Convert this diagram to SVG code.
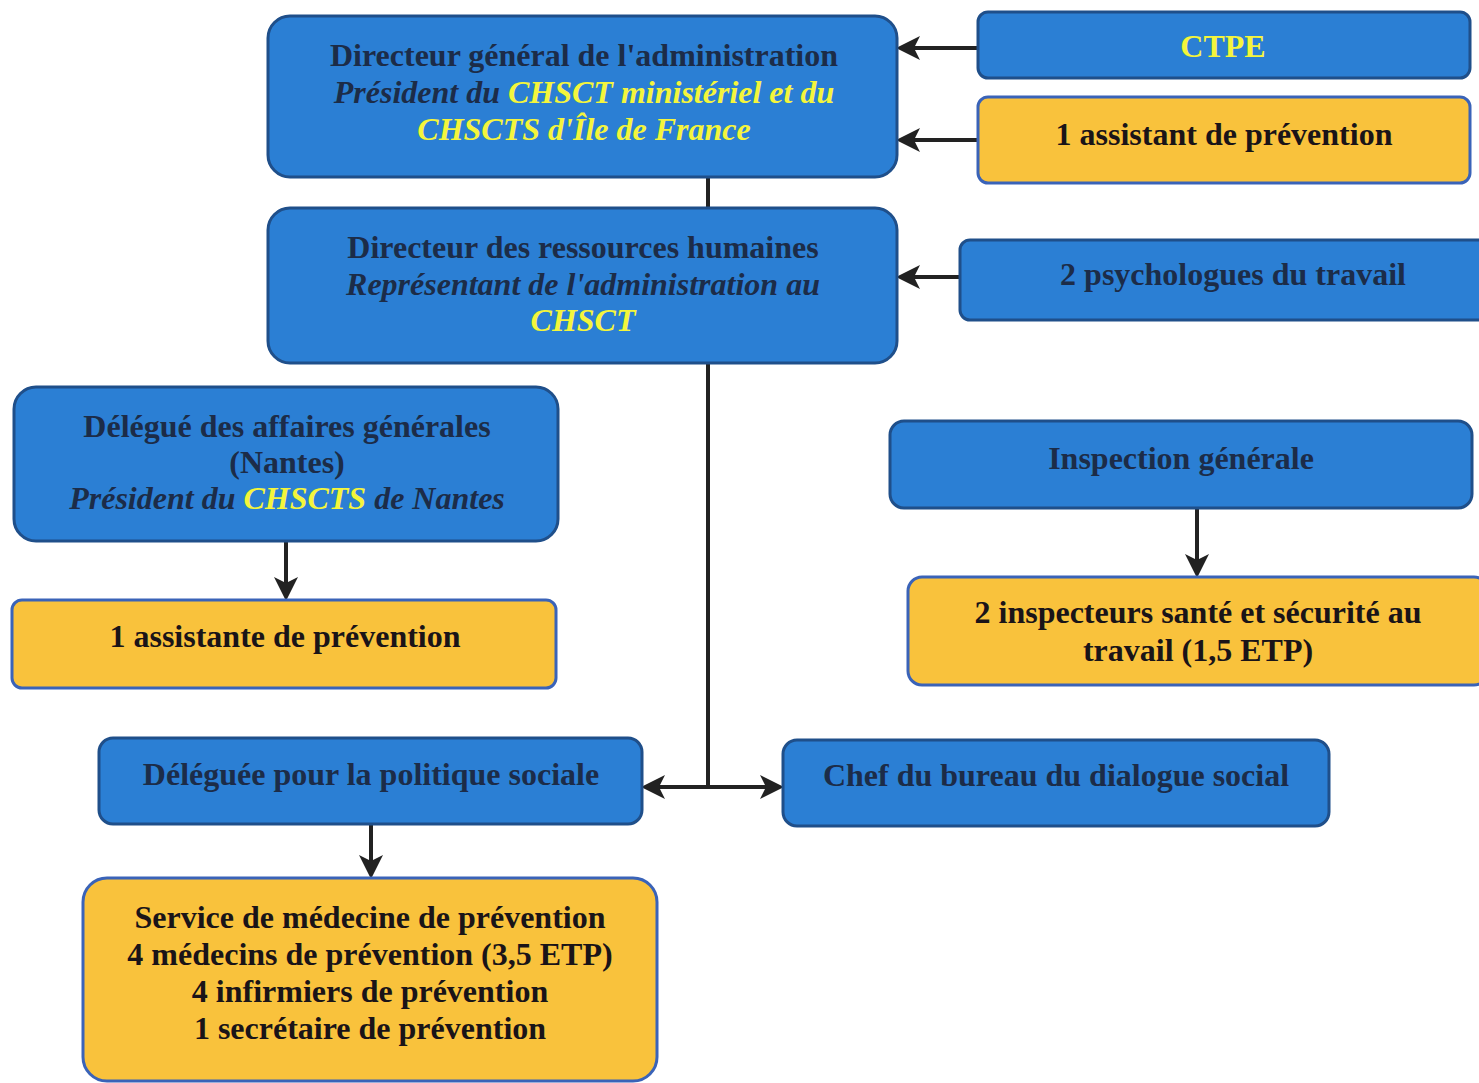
<svg xmlns="http://www.w3.org/2000/svg" width="1479" height="1083" viewBox="0 0 1479 1083">
<style>
.blue{fill:#2b7fd4;stroke:#1f4f8a;stroke-width:3}
.orange{fill:#f9c23c;stroke:#3a63b8;stroke-width:3}
text{font-family:"Liberation Serif","Times New Roman",serif;font-weight:bold;font-size:32px;text-anchor:middle}
.dk{fill:#1c2c48}
.yl{fill:#f4f53c}
.bk{fill:#1a1418}
.it{font-style:italic}
.ln{stroke:#222;stroke-width:4;fill:none}
</style>
<defs>
<marker id="ah" markerWidth="6" markerHeight="6" refX="5" refY="3" orient="auto-start-reverse" markerUnits="strokeWidth">
<path d="M0,0 L6,3 L0,6 L1.5,3 Z" fill="#222"/>
</marker>
</defs>
<rect width="1479" height="1083" fill="#ffffff"/>
<g id="connectors">
<line class="ln" x1="978" y1="48" x2="900" y2="48" marker-end="url(#ah)"/>
<line class="ln" x1="978" y1="140" x2="900" y2="140" marker-end="url(#ah)"/>
<line class="ln" x1="960" y1="277" x2="900" y2="277" marker-end="url(#ah)"/>
<line class="ln" x1="708" y1="177" x2="708" y2="208"/>
<line class="ln" x1="708" y1="363" x2="708" y2="787"/>
<line class="ln" x1="645" y1="787" x2="780" y2="787" marker-start="url(#ah)" marker-end="url(#ah)"/>
<line class="ln" x1="286" y1="541" x2="286" y2="597" marker-end="url(#ah)"/>
<line class="ln" x1="1197" y1="508" x2="1197" y2="574" marker-end="url(#ah)"/>
<line class="ln" x1="371" y1="824" x2="371" y2="875" marker-end="url(#ah)"/>
</g>
<g id="dga">
<rect class="blue" x="268" y="16" width="629" height="161" rx="22"/>
<text x="584" y="66" class="dk">Directeur général de l'administration</text>
<text x="584" y="103" class="it"><tspan class="dk">Président du </tspan><tspan class="yl">CHSCT ministériel et du</tspan></text>
<text x="584" y="140" class="it yl">CHSCTS d'Île de France</text>
</g>
<g id="ctpe">
<rect class="blue" x="978" y="12" width="492" height="66" rx="10"/>
<text x="1223" y="57" class="yl">CTPE</text>
</g>
<g id="assistant">
<rect class="orange" x="978" y="97" width="492" height="86" rx="10"/>
<text x="1224" y="145" class="bk">1 assistant de prévention</text>
</g>
<g id="drh">
<rect class="blue" x="268" y="208" width="629" height="155" rx="22"/>
<text x="583" y="258" class="dk">Directeur des ressources humaines</text>
<text x="583" y="295" class="it dk">Représentant de l'administration au</text>
<text x="583" y="331" class="it yl">CHSCT</text>
</g>
<g id="psy">
<rect class="blue" x="960" y="240" width="530" height="80" rx="10"/>
<text x="1233" y="285" class="dk">2 psychologues du travail</text>
</g>
<g id="dag">
<rect class="blue" x="14" y="387" width="544" height="154" rx="22"/>
<text x="287" y="437" class="dk">Délégué des affaires générales</text>
<text x="287" y="473" class="dk">(Nantes)</text>
<text x="287" y="509" class="it"><tspan class="dk">Président du </tspan><tspan class="yl">CHSCTS</tspan><tspan class="dk"> de Nantes</tspan></text>
</g>
<g id="assistante">
<rect class="orange" x="12" y="600" width="544" height="88" rx="10"/>
<text x="285" y="647" class="bk">1 assistante de prévention</text>
</g>
<g id="ig">
<rect class="blue" x="890" y="421" width="582" height="87" rx="14"/>
<text x="1181" y="469" class="dk">Inspection générale</text>
</g>
<g id="inspecteurs">
<rect class="orange" x="908" y="577" width="580" height="108" rx="14"/>
<text x="1198" y="623" class="bk">2 inspecteurs santé et sécurité au</text>
<text x="1198" y="661" class="bk">travail (1,5 ETP)</text>
</g>
<g id="deleguee">
<rect class="blue" x="99" y="738" width="543" height="86" rx="14"/>
<text x="371" y="785" class="dk">Déléguée pour la politique sociale</text>
</g>
<g id="chef">
<rect class="blue" x="783" y="740" width="546" height="86" rx="14"/>
<text x="1056" y="786" class="dk">Chef du bureau du dialogue social</text>
</g>
<g id="service">
<rect class="orange" x="83" y="878" width="574" height="203" rx="24"/>
<text x="370" y="928" class="bk">Service de médecine de prévention</text>
<text x="370" y="965" class="bk">4 médecins de prévention (3,5 ETP)</text>
<text x="370" y="1002" class="bk">4 infirmiers de prévention</text>
<text x="370" y="1039" class="bk">1 secrétaire de prévention</text>
</g>
</svg>
